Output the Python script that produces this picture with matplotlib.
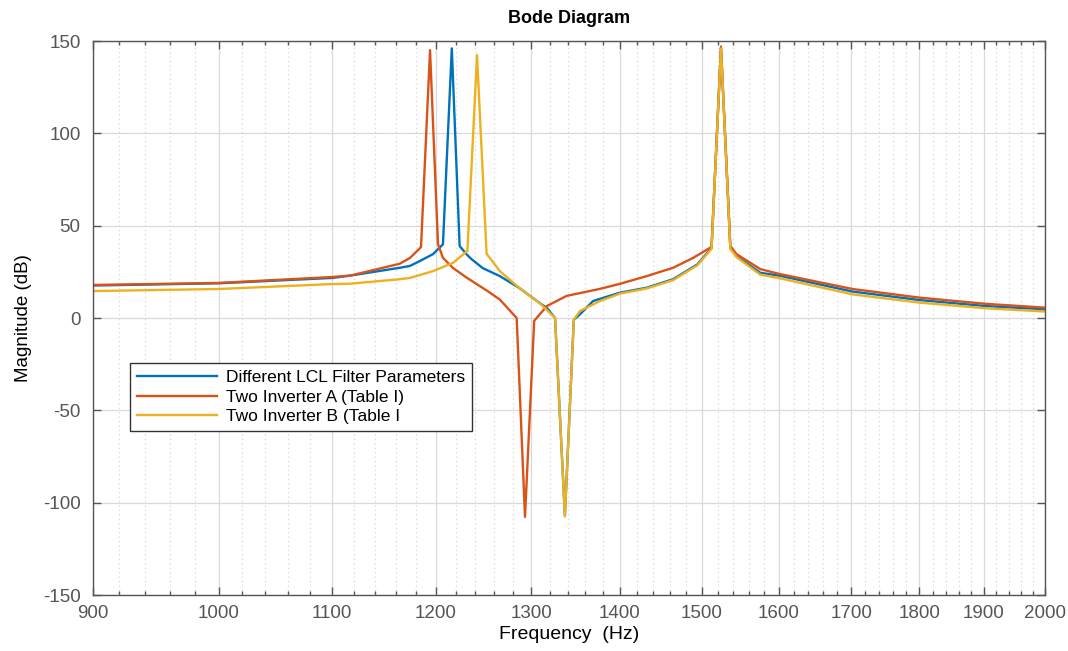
import numpy as np
import matplotlib
matplotlib.use("Agg")
from matplotlib import pyplot as plt
from matplotlib.ticker import FixedLocator, NullFormatter, FuncFormatter

# Frequency (Hz) / magnitude (dB) vertices
freq_lcl = [900, 1000, 1100, 1117, 1164, 1174, 1184, 1197, 1207, 1216, 1224, 1231, 1236,
            1248, 1266, 1287, 1306, 1317, 1326, 1337, 1347, 1354, 1369, 1400, 1432, 1464,
            1494, 1512, 1524, 1536, 1544, 1575, 1601, 1702, 1801, 1902, 2000]
mag_lcl = [17.6, 18.8, 21.7, 23, 27.2, 28.2, 30.9, 34.6, 39.9, 146, 39, 34.6, 32,
           27, 22.7, 16.2, 9.2, 5.4, 0, -107, -1, 2, 9.2, 13.7, 16.4, 21,
           29, 38, 146, 38, 33.5, 24.5, 22.9, 14.3, 9.7, 6.5, 4.7]

freq_a = [900, 1000, 1100, 1117, 1164, 1174, 1185, 1194, 1202, 1207, 1217, 1230, 1253,
          1266, 1284, 1293, 1303, 1317, 1339, 1354, 1377, 1400, 1432, 1464, 1489, 1512,
          1524, 1536, 1544, 1575, 1601, 1702, 1801, 1902, 2000]
mag_a = [17.9, 19, 22.2, 23, 29.4, 32.5, 38.4, 145, 40, 32.6, 27.2, 22.3, 14.6,
         10, 0, -107.7, -1.5, 6.5, 12, 13.5, 15.8, 18.5, 22.7, 27.2, 32.6, 38.5,
         147, 39, 34.6, 26.5, 23.8, 15.7, 11, 7.7, 5.6]

freq_b = [900, 1000, 1100, 1117, 1164, 1174, 1197, 1217, 1232, 1242, 1252, 1266, 1287,
          1310, 1326, 1337, 1347, 1354, 1377, 1400, 1432, 1464, 1494, 1512, 1524, 1536,
          1544, 1575, 1601, 1702, 1801, 1902, 2000]
mag_b = [14.6, 15.7, 18.4, 18.6, 21, 21.7, 25.4, 29.8, 36.3, 142.4, 34.8, 25.4, 16.2,
         7.6, 0, -107.5, -1, 3.8, 9.2, 13.2, 16, 20.5, 28.5, 37.5, 146, 37.5,
         33, 23.5, 21.5, 12.8, 8.3, 5.3, 3.5]

series_labels = ["Different LCL Filter Parameters", "Two Inverter A (Table I)", "Two Inverter B (Table I"]
x_major = list(range(900, 2001, 100))
x_minor = [f for f in range(900, 2001, 20) if f % 100 != 0]
y_ticks = [-150, -100, -50, 0, 50, 100, 150]

plt.rcParams["font.family"] = ["Liberation Sans", "DejaVu Sans"]
plt.rcParams["axes.unicode_minus"] = False

fig = plt.figure(figsize=(10.68, 6.51), dpi=100)
ax = fig.add_axes([0.0871, 0.086, 0.8914, 0.851])

ax.plot(freq_lcl, mag_lcl, color="#0072BD", lw=1.7, label=series_labels[0])
ax.plot(freq_a, mag_a, color="#D95319", lw=1.7, label=series_labels[1])
ax.plot(freq_b, mag_b, color="#EDB120", lw=1.7, label=series_labels[2])

ax.set_xscale("log")
ax.set_xlim(900, 2000)
ax.set_ylim(-150, 150)
ax.xaxis.set_major_locator(FixedLocator(x_major))
ax.xaxis.set_minor_locator(FixedLocator(x_minor))
ax.xaxis.set_major_formatter(FuncFormatter(lambda v, p: f"{v:.0f}"))
ax.xaxis.set_minor_formatter(NullFormatter())
ax.set_yticks(y_ticks)

# MATLAB-like grid and box
ax.grid(True, which="major", color="#d9d9d9", lw=0.9, ls="-")
ax.grid(True, which="minor", axis="x", color="#d0d0d0", lw=0.8, ls=(0, (1, 3)))
ax.set_axisbelow(True)
ax.tick_params(which="both", direction="in", top=True, right=True, colors="#555555",
               labelsize=13.5, width=1.0)
ax.tick_params(which="major", length=6)
ax.tick_params(which="minor", length=3)
ax.tick_params(axis="x", pad=7)
ax.tick_params(axis="y", pad=9)
for s in ax.spines.values():
    s.set_color("#555555")
    s.set_linewidth(1.0)

ax.set_title("Bode Diagram", fontsize=13, fontweight="bold", pad=13)
ax.set_xlabel("Frequency  (Hz)", fontsize=14, labelpad=3)
ax.set_ylabel("Magnitude (dB)", fontsize=13.5, labelpad=8)

leg = ax.legend(loc="lower left", bbox_to_anchor=(0.039, 0.296), fontsize=12.5,
                frameon=True, fancybox=False, edgecolor="#333333", framealpha=1,
                handlelength=4.6, borderpad=0.4, labelspacing=0.25, handletextpad=0.5,
                borderaxespad=0)
leg.get_frame().set_linewidth(1.0)

fig.savefig("out.png", dpi=100)
